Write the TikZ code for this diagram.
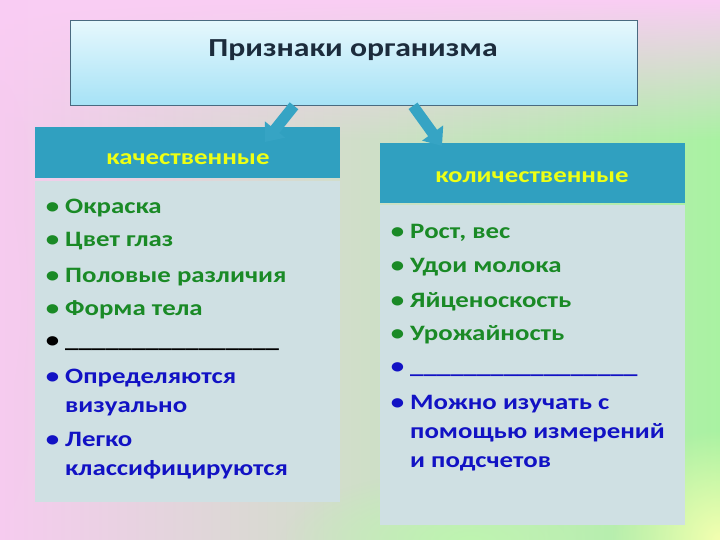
\documentclass[tikz,border=0pt]{standalone}
\usepackage{fontspec}
\setmainfont[FakeStretch=1.22]{Carlito}
\usetikzlibrary{arrows.meta,fadings,calc}
\definecolor{bgpink}{HTML}{F6CBEF}
\definecolor{bgmid}{HTML}{DCE3D4}
\definecolor{bggreen}{HTML}{A9F2A2}
\definecolor{bgtop}{HTML}{FACDF4}
\definecolor{bgyellow}{HTML}{F4FFB0}
\definecolor{bglgreen}{HTML}{BEF5B0}
\definecolor{boxtop}{HTML}{E6F8FD}
\definecolor{boxbot}{HTML}{A6E2F6}
\definecolor{boxline}{HTML}{4A6A80}
\definecolor{headfill}{HTML}{30A0C0}
\definecolor{headtext}{HTML}{EEFF14}
\definecolor{bodyfill}{HTML}{CFE0E3}
\definecolor{titlec}{HTML}{1C2C3C}
\definecolor{greent}{HTML}{1A8A26}
\definecolor{bluet}{HTML}{1212C4}
\definecolor{arrowc}{HTML}{36A4C4}
\definecolor{arrowline}{HTML}{2A7C9C}
\tikzfading[name=fadedown, top color=transparent!0, bottom color=transparent!100]
\tikzfading[name=blob, inner color=transparent!0, outer color=transparent!100]
\begin{document}
\begin{tikzpicture}[x=1pt,y=-1pt,
  topbox/.style={draw=boxline, line width=0.8pt, top color=boxtop, bottom color=boxbot, inner sep=0},
  headbox/.style={fill=headfill, inner sep=0, minimum width=305},
  headtxt/.style={anchor=base, inner sep=0, text=headtext, font=\fontsize{22}{26}\selectfont\bfseries},
  bodybox/.style={fill=bodyfill, inner sep=0, minimum width=305},
  itemg/.style={anchor=base west, inner sep=0, align=left, text=greent, font=\fontsize{22}{29}\selectfont\bfseries},
  itemb/.style={itemg, text=bluet},
  itemk/.style={itemg, text=black},
  conn/.style={arrowc, line width=11pt, -{Triangle[width=25pt,length=16pt]}}]
\useasboundingbox (0,0) rectangle (720,540);
% background
\shade[left color=bgpink, middle color=bgmid, right color=bggreen] (0,0) rectangle (720,540);
\fill[bgtop, path fading=fadedown] (0,0) rectangle (720,140);
\fill[bglgreen, path fading=blob] (470,540) ellipse (190 and 70);
\fill[bgyellow, path fading=blob] (720,540) circle (110);
\fill[bgpink, path fading=blob] (0,300) ellipse (40 and 220);
% top box
\node[topbox, anchor=north west, minimum width=567, minimum height=85] (top) at (70,20) {};
\node[anchor=base, inner sep=0, text=titlec, font=\fontsize{26}{30}\selectfont\bfseries] (title) at (353,57) {Признаки организма};
% left panel
\node[headbox, anchor=north west, minimum height=51] (lh) at (35,127) {};
\node[headtxt] (lht) at (188,165) {качественные};
\node[bodybox, anchor=north west, minimum height=321] (lb) at (35,181) {};
% right panel
\node[headbox, anchor=north west, minimum height=60] (rh) at (380,143) {};
\node[headtxt] (rht) at (532,183) {количественные};
\node[bodybox, anchor=north west, minimum height=320] (rb) at (380,205) {};
% arrows
\path (top.south west) ++(224,0) coordinate (l0);
\path (top.south west) ++(343,0) coordinate (r0);
\path (lh.north west) ++(230,15) coordinate (l1);
\path (rh.north west) ++(62,3) coordinate (r1);
\draw[conn] (l0) -- (l1);
\draw[conn] (r0) -- (r1);
% left items
\node[itemg] (a1) at (65,214) {\llap{•\hspace{6pt}}Окраска};
\node[itemg] (a2) at (65,247) {\llap{•\hspace{6pt}}Цвет глаз};
\node[itemg] (a3) at (65,282) {\llap{•\hspace{6pt}}Половые различия};
\node[itemg] (a4) at (65,315) {\llap{•\hspace{6pt}}Форма тела};
\node[itemk] (a5) at (65,347) {\llap{•\hspace{6pt}}\_\_\_\_\_\_\_\_\_\_\_\_\_\_\_\_};
\node[itemb] (a6) at (65,412) {\llap{•\hspace{6pt}}Определяются\\визуально};
\node[itemb] (a7) at (65,475) {\llap{•\hspace{6pt}}Легко\\классифицируются};
% right items
\node[itemg] (b1) at (410,238) {\llap{•\hspace{6pt}}Рост, вес};
\node[itemg] (b2) at (410,272) {\llap{•\hspace{6pt}}Удои молока};
\node[itemg] (b3) at (410,307) {\llap{•\hspace{6pt}}Яйценоскость};
\node[itemg] (b4) at (410,340) {\llap{•\hspace{6pt}}Урожайность};
\node[itemb] (b5) at (410,373) {\llap{•\hspace{6pt}}\_\_\_\_\_\_\_\_\_\_\_\_\_\_\_\_\_};
\node[itemb] (b6) at (410,467) {\llap{•\hspace{6pt}}Можно изучать с\\помощью измерений\\и подсчетов};
\end{tikzpicture}
\end{document}
